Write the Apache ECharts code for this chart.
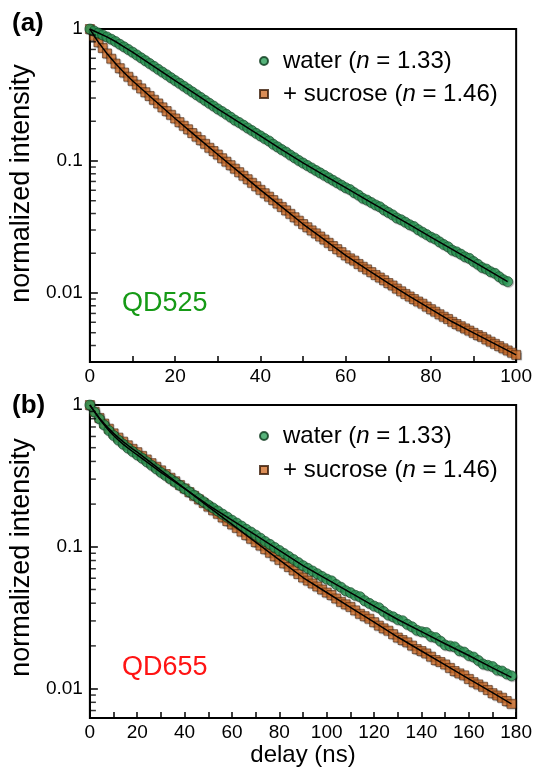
<!DOCTYPE html>
<html>
<head>
<meta charset="utf-8">
<script src="https://cdn.jsdelivr.net/npm/echarts@6/dist/echarts.min.js"></script>
<style>
html,body{margin:0;padding:0;background:#fff}
#chart{width:535px;height:772px}
</style>
</head>
<body>
<div id="chart"></div>
<script>
// ---- data ----
// panel (a) QD525, sampled every 1 ns
var delayStepA = 1;
var waterA = [1.000,0.966,0.933,0.902,0.871,0.838,0.804,0.767,0.733,0.700,
  0.668,0.636,0.605,0.576,0.548,0.522,0.496,0.472,0.450,0.428,
  0.407,0.388,0.369,0.351,0.334,0.318,0.303,0.288,0.274,0.261,
  0.248,0.237,0.226,0.215,0.204,0.196,0.187,0.178,0.170,0.162,
  0.155,0.148,0.142,0.134,0.128,0.122,0.117,0.111,0.106,0.101,
  0.0966,0.0925,0.0886,0.0849,0.0813,0.0779,0.0746,0.0715,0.0685,0.0656,
  0.0628,0.0608,0.0576,0.0552,0.0522,0.0506,0.0485,0.0465,0.0450,0.0426,
  0.0408,0.0391,0.0370,0.0359,0.0344,0.0329,0.0319,0.0302,0.0289,0.0277,
  0.0265,0.0257,0.0244,0.0233,0.0224,0.0211,0.0205,0.0197,0.0188,0.0183,
  0.0173,0.0165,0.0156,0.0152,0.0145,0.0141,0.0133,0.0126,0.0122];
var sucroseA = [1.000,0.887,0.794,0.719,0.653,0.596,0.547,0.505,0.468,0.435,
  0.405,0.379,0.355,0.332,0.311,0.291,0.273,0.255,0.239,0.224,
  0.210,0.197,0.185,0.174,0.163,0.153,0.144,0.135,0.126,0.119,
  0.112,0.105,0.0989,0.0930,0.0875,0.0823,0.0774,0.0728,0.0684,0.0644,
  0.0605,0.0570,0.0537,0.0506,0.0476,0.0449,0.0423,0.0398,0.0375,0.0353,
  0.0333,0.0315,0.0298,0.0283,0.0268,0.0254,0.0240,0.0227,0.0215,0.0204,
  0.0193,0.0183,0.0176,0.0166,0.0158,0.0151,0.0144,0.0137,0.0131,0.0125,
  0.0119,0.0114,0.0108,0.0103,0.00984,0.00941,0.00900,0.00862,0.00830,0.00789,
  0.00754,0.00722,0.00690,0.00661,0.00636,0.00605,0.00582,0.00560,0.00539,0.00519,
  0.00499,0.00480,0.00465,0.00445,0.00428,0.00412,0.00396,0.00381,0.00367,0.00353,
  0.00340];
var fitDelayWaterA = [0,2,4,6,8,10,15,20,25,30,35,40,45,50,55,60,65,70,75,80,85,90,95,98];
var fitWaterA = [1,0.933,0.871,0.804,0.733,0.668,0.522,0.407,0.318,0.248,0.196,0.155,0.122,0.0966,
  0.0779,0.0628,0.0506,0.0408,0.0329,0.0265,0.0214,0.0173,0.0139,0.0122];
var fitDelaySucroseA = [0,1,2,3,4,6,8,10,15,20,25,30,35,40,45,50,55,60,65,70,75,80,85,90,95,100];
var fitSucroseA = [1,0.887,0.794,0.719,0.653,0.547,0.468,0.405,0.291,0.210,0.153,0.112,0.0823,0.0605,
  0.0449,0.0333,0.0254,0.0193,0.0151,0.0119,0.00941,0.00754,0.00605,0.00499,0.00412,0.00340];

// panel (b) QD655, sampled every 2 ns
var delayStepB = 2;
var waterB = [1.000,0.891,0.800,0.724,0.661,0.610,0.566,0.530,0.498,0.470,
  0.445,0.422,0.398,0.376,0.355,0.335,0.318,0.301,0.286,0.271,
  0.257,0.244,0.231,0.219,0.208,0.197,0.188,0.179,0.170,0.162,
  0.154,0.147,0.140,0.133,0.127,0.121,0.115,0.109,0.104,0.0990,
  0.0942,0.0897,0.0854,0.0813,0.0774,0.0736,0.0705,0.0675,0.0646,0.0618,
  0.0592,0.0575,0.0542,0.0519,0.0490,0.0475,0.0455,0.0445,0.0417,0.0399,
  0.0382,0.0372,0.0350,0.0330,0.0321,0.0307,0.0301,0.0284,0.0273,0.0258,
  0.0252,0.0249,0.0233,0.0229,0.0216,0.0203,0.0200,0.0197,0.0185,0.0181,
  0.0171,0.0167,0.0158,0.0149,0.0146,0.0143,0.0135,0.0133,0.0127,0.0123];
var sucroseB = [1.000,0.897,0.811,0.740,0.681,0.631,0.589,0.552,0.520,0.491,
  0.465,0.438,0.413,0.389,0.367,0.346,0.326,0.307,0.290,0.273,
  0.258,0.243,0.229,0.216,0.204,0.192,0.181,0.171,0.161,0.152,
  0.144,0.136,0.128,0.121,0.114,0.108,0.102,0.0962,0.0908,0.0857,
  0.0809,0.0764,0.0721,0.0681,0.0643,0.0607,0.0578,0.0551,0.0525,0.0500,
  0.0476,0.0457,0.0432,0.0409,0.0393,0.0377,0.0356,0.0337,0.0324,0.0311,
  0.0294,0.0278,0.0266,0.0256,0.0242,0.0229,0.0220,0.0212,0.0201,0.0190,
  0.0184,0.0177,0.0168,0.0159,0.0154,0.0148,0.0140,0.0133,0.0128,0.0124,
  0.0117,0.0111,0.0107,0.0103,0.00978,0.00928,0.00894,0.00862,0.00817,0.00781];
var fitDelayB = [0,2,4,6,8,10,12,14,16,18,20,30,40,50,60,70,80,90,100,110,120,130,140,150,160,170,178];
var fitWaterB = [1,0.891,0.800,0.724,0.661,0.610,0.566,0.530,0.498,0.470,0.445,0.335,0.257,0.197,0.154,
  0.121,0.0942,0.0736,0.0592,0.0475,0.0382,0.0307,0.0252,0.0207,0.0171,0.0140,0.0120];
var fitSucroseB = [1,0.897,0.811,0.740,0.681,0.631,0.589,0.552,0.520,0.491,0.465,0.346,0.258,0.192,0.144,
  0.108,0.0809,0.0607,0.0476,0.0374,0.0294,0.0231,0.0184,0.0147,0.0117,0.00935,0.00781];

// minor tick values on the log axes
var minorTicksA = [0.9,0.8,0.7,0.6,0.5,0.4,0.3,0.2,0.09,0.08,0.07,0.06,0.05,0.04,0.03,0.02,
  0.009,0.008,0.007,0.006,0.005,0.004];
var minorTicksB = [0.9,0.8,0.7,0.6,0.5,0.4,0.3,0.2,0.09,0.08,0.07,0.06,0.05,0.04,0.03,0.02,
  0.009,0.008,0.007];

var legendLabels = ['{h|water (}{i|n}{t| = 1.33)}', '{h|+ sucrose (}{i|n}{t| = 1.46)}'];

var FONT = 'Liberation Sans, Arial, Helvetica, sans-serif';
var GREEN = '#2da05a';
var ORANGE = '#d2702c';

function sampled(values, step){
	return values.map(function(v, i){ return [i * step, v]; });
}
function paired(xs, ys){
	return xs.map(function(x, i){ return [x, ys[i]]; });
}

function xAxisFor(idx, max, name){
	return {
		type: 'value', gridIndex: idx, min: 0, max: max, interval: 20,
		name: name, nameLocation: 'middle', nameGap: 25,
		nameTextStyle: {fontSize: 24, color: '#000', fontFamily: FONT},
		axisLine: {show: true, lineStyle: {color: '#000', width: 2}},
		axisTick: {show: true, inside: true, length: 6, lineStyle: {color: '#000', width: 1.5}},
		minorTick: {show: true, splitNumber: 2, length: 6, lineStyle: {color: '#000', width: 1.5}},
		axisLabel: {fontSize: 19, color: '#000', margin: 5, fontFamily: FONT},
		splitLine: {show: false}
	};
}

function yAxisFor(idx, min, shift){
	return {
		type: 'log', logBase: 10, gridIndex: idx, min: min, max: 1,
		name: 'normalized intensity', nameLocation: 'middle', nameGap: 47,
		nameTextStyle: {fontSize: 27, color: '#000', fontFamily: FONT, padding: [0, 0, 0, shift]},
		axisLine: {show: true, lineStyle: {color: '#000', width: 2}},
		axisTick: {show: true, inside: true, length: 8, lineStyle: {color: '#000', width: 1.5}},
		axisLabel: {
			fontSize: 19, color: '#000', margin: 7, fontFamily: FONT,
			formatter: function(v){
				var l = Math.log(v) / Math.LN10;
				return Math.abs(l - Math.round(l)) < 1e-6 ? String(+v.toPrecision(1)) : '';
			}
		},
		splitLine: {show: false}
	};
}

function dots(name, data, step, axis, isWater){
	return {
		type: 'scatter', name: name, xAxisIndex: axis, yAxisIndex: axis,
		data: sampled(data, step),
		symbol: isWater ? 'circle' : 'rect',
		symbolSize: isWater ? 10 : 9,
		itemStyle: {
			color: isWater ? GREEN : ORANGE,
			borderColor: isWater ? '#0c3a1d' : '#3a1a06',
			borderWidth: 0.7,
			shadowColor: 'rgba(0,0,0,0.35)', shadowBlur: 1, shadowOffsetX: 1, shadowOffsetY: 1
		},
		z: isWater ? 3 : 2,
		silent: true
	};
}

function fit(xs, ys, axis){
	return {
		type: 'line', xAxisIndex: axis, yAxisIndex: axis,
		data: paired(xs, ys), symbol: 'none',
		lineStyle: {color: '#000', width: 1.5},
		z: 4, silent: true
	};
}

function minorTicks(values, axis){
	return {
		type: 'scatter', xAxisIndex: axis, yAxisIndex: axis,
		data: values.map(function(v){ return [0, v]; }),
		symbol: 'rect', symbolSize: [6, 1.5], symbolOffset: [3, 0],
		itemStyle: {color: '#000'}, clip: false, z: 5, silent: true
	};
}

function legendFor(names, top, gap){
	var base = {fontSize: 24, fontFamily: FONT, color: '#000', lineHeight: 26};
	return {
		data: names, orient: 'vertical', left: 254, top: top,
		itemWidth: 8, itemHeight: 8, itemGap: gap, selectedMode: false,
		itemStyle: {shadowBlur: 0, shadowOffsetX: 0, shadowOffsetY: 0},
		formatter: function(name){ return name.indexOf('water') === 0 ? legendLabels[0] : legendLabels[1]; },
		textStyle: {
			color: '#000', fontFamily: FONT, fontSize: 24,
			rich: {
				h: Object.assign({padding: [0, 0, 0, 10]}, base),
				t: base,
				i: Object.assign({fontStyle: 'italic'}, base)
			}
		}
	};
}

var option = {
	backgroundColor: '#fff',
	animation: false,
	textStyle: {fontFamily: FONT},
	title: [
		{text: '(a)', left: 12, top: 11, padding: 0, textStyle: {fontSize: 26, fontWeight: 'bold', color: '#000', fontFamily: FONT}},
		{text: '(b)', left: 12, top: 393, padding: 0, textStyle: {fontSize: 26, fontWeight: 'bold', color: '#000', fontFamily: FONT}},
		{text: 'QD525', left: 122, top: 290, padding: 0, textStyle: {fontSize: 27, fontWeight: 'normal', color: '#169a16', fontFamily: FONT}},
		{text: 'QD655', left: 122, top: 654, padding: 0, textStyle: {fontSize: 27, fontWeight: 'normal', color: '#ff1414', fontFamily: FONT}}
	],
	legend: [
		legendFor(['waterA', 'sucroseA'], 44, 9),
		legendFor(['waterB', 'sucroseB'], 419, 10)
	],
	grid: [
		{left: 89, top: 29, width: 428, height: 333, show: true, borderColor: '#000', borderWidth: 2, backgroundColor: 'transparent'},
		{left: 89, top: 405, width: 428, height: 313, show: true, borderColor: '#000', borderWidth: 2, backgroundColor: 'transparent'}
	],
	xAxis: [xAxisFor(0, 100, ''), xAxisFor(1, 180, 'delay (ns)')],
	yAxis: [yAxisFor(0, 0.003, 24), yAxisFor(1, 0.0062, 8)],
	series: [
		dots('sucroseA', sucroseA, delayStepA, 0, false),
		dots('waterA', waterA, delayStepA, 0, true),
		fit(fitDelaySucroseA, fitSucroseA, 0),
		fit(fitDelayWaterA, fitWaterA, 0),
		minorTicks(minorTicksA, 0),
		dots('sucroseB', sucroseB, delayStepB, 1, false),
		dots('waterB', waterB, delayStepB, 1, true),
		fit(fitDelayB, fitSucroseB, 1),
		fit(fitDelayB, fitWaterB, 1),
		minorTicks(minorTicksB, 1)
	]
};

var myChart = echarts.init(document.getElementById('chart'));
myChart.setOption(option);
</script>
</body>
</html>
